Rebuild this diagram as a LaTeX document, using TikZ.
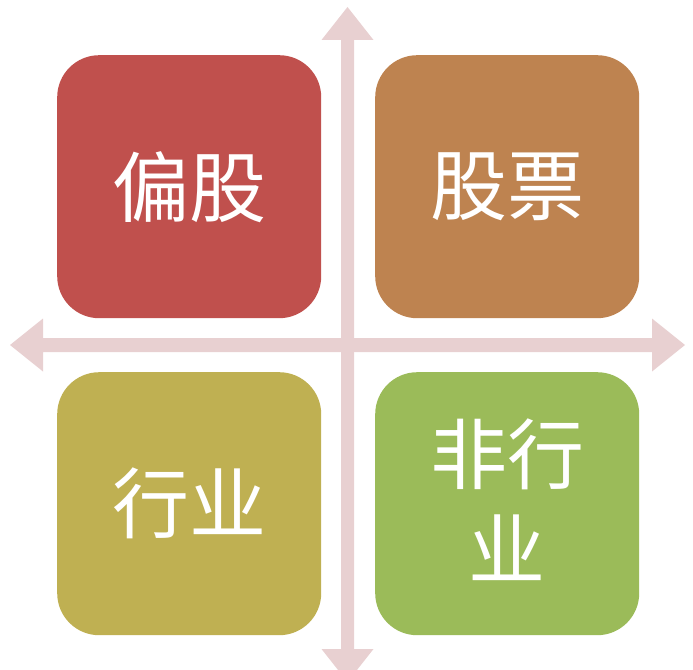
\documentclass[tikz,border=0pt]{standalone}
\usepackage{fontspec}
\newfontfamily\cjk{Noto Sans CJK SC}
\definecolor{cred}{HTML}{C0504D}
\definecolor{corange}{HTML}{BE8350}
\definecolor{colive}{HTML}{BFB052}
\definecolor{cgreen}{HTML}{9BBB59}
\definecolor{carrow}{HTML}{E8D0D1}
\tikzset{
  quad/.style={rounded corners=42pt, minimum width=264pt, minimum height=263pt, inner sep=0pt,
    text=white, font=\cjk\fontsize{77}{94}\selectfont, align=center, anchor=north west},
  axisarrow/.style={fill=carrow, draw=none}
}
\begin{document}
\begin{tikzpicture}[x=1pt,y=-1pt]
\useasboundingbox (0,0) rectangle (693,669);
\begin{scope}
\clip (0,0) rectangle (693,669);
% vertical arrow
\fill[axisarrow] (347.5,7) -- (373.5,40) -- (354,40) -- (354,649) -- (373.5,649) -- (347.5,682)
  -- (321.5,649) -- (341,649) -- (341,40) -- (321.5,40) -- cycle;
% horizontal arrow
\fill[axisarrow] (10,345) -- (43,318.5) -- (43,338) -- (652,338) -- (652,318.5) -- (685,345)
  -- (652,371.5) -- (652,352) -- (43,352) -- (43,371.5) -- cycle;
\end{scope}
\node[quad, fill=cred] (tl) at (57,55) {\raisebox{6pt}{偏股}};
\node[quad, fill=corange] (tr) at (375,55) {\raisebox{6pt}{股票}};
\node[quad, fill=colive] (bl) at (57,372) {\raisebox{2pt}{行业}};
\node[quad, fill=cgreen] (br) at (375,372) {\raisebox{11pt}{\shortstack{非行\\[22pt]业}}};
\end{tikzpicture}
\end{document}
